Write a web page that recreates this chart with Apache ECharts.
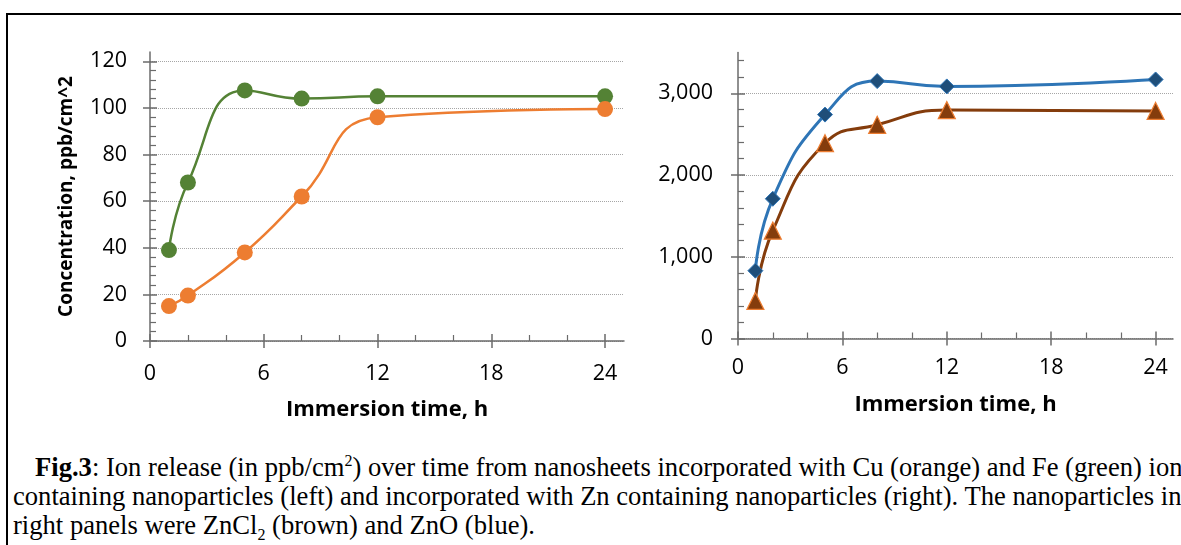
<!DOCTYPE html>
<html>
<head>
<meta charset="utf-8">
<script src="https://cdn.jsdelivr.net/npm/echarts@6/dist/echarts.min.js"></script>
<style>
  html, body { margin: 0; padding: 0; background: #fff; width: 1181px; height: 545px; overflow: hidden; }
  .frame { position: absolute; left: 6px; top: 13px; width: 1200px; height: 600px; border-top: 2px solid #000; border-left: 2px solid #000; }
  #chart { position: absolute; left: 0; top: 0; width: 1181px; height: 440px; }
  .caption { position: absolute; left: 0; width: 1181px; font-family: 'Liberation Serif', 'Times New Roman', serif; font-size: 26.6px; line-height: 29px; white-space: nowrap; overflow: hidden; color: #000; }
  .caption sup, .caption sub { font-size: 16px; line-height: 0; }
</style>
</head>
<body>
<div class="frame"></div>
<div id="chart"></div>
<div class="caption" style="top:453px;left:35px;"><b>Fig.3</b>: Ion release (in ppb/cm<sup>2</sup>) over time from nanosheets incorporated with Cu (orange) and Fe (green) ion</div>
<div class="caption" style="top:482px;left:13px;">containing nanoparticles (left) and incorporated with Zn containing nanoparticles (right). The nanoparticles in</div>
<div class="caption" style="top:511px;left:13px;">right panels were ZnCl<sub>2</sub> (brown) and ZnO (blue).</div>
<script>
// immersion time, h
const hours = [1, 2, 5, 8, 12, 24]
// left panel, ppb/cm^2
const feValues = [39, 68, 107.5, 104, 105, 105]
const cuValues = [15, 19.5, 38, 62, 96, 99.5]
// right panel
const znoValues = [830, 1710, 2740, 3150, 3085, 3170]
const zncl2Values = [460, 1320, 2390, 2615, 2795, 2785]

// tick values
const xTicks = [0, 6, 12, 18, 24]
const leftYTicks = [0, 20, 40, 60, 80, 100, 120]
const rightYTicks = [0, 1000, 2000, 3000]

const labelFont = { color: '#000', fontSize: 21.5, fontFamily: 'Open Sans' }
const nameFont = { color: '#000', fontWeight: 'bold', fontFamily: 'Open Sans' }
const axisColor = '#6b6b6b'

function pairs(values) {
  return hours.map((h, i) => [h, values[i]])
}

// main axis: line, labels, inside ticks + minor ticks
function mainAxis(gridIndex, opts) {
  return {
    type: 'value',
    gridIndex,
    position: opts.position,
    min: 0,
    max: opts.max,
    interval: opts.interval,
    axisLine: { show: true, onZero: false, lineStyle: { color: axisColor, width: 1.5 } },
    axisTick: { show: true, inside: true, length: 7, customValues: opts.ticks, lineStyle: { color: axisColor, width: 1.5 } },
    minorTick: { show: true, splitNumber: opts.minor, length: 6, lineStyle: { color: axisColor, width: 1.2 } },
    axisLabel: {
      ...labelFont,
      margin: opts.margin,
      customValues: opts.ticks,
      formatter: opts.formatter,
    },
    splitLine: opts.grid
      ? { show: true, lineStyle: { color: '#a6a6a6', type: 'dotted', width: 1 } }
      : { show: false },
    name: opts.name,
    nameLocation: 'middle',
    nameGap: opts.nameGap,
    nameTextStyle: { ...nameFont, fontSize: opts.nameSize },
  }
}

// overlay axis that only draws the outward half of the major ticks
function tickAxis(gridIndex, opts) {
  return {
    type: 'value',
    gridIndex,
    position: opts.position,
    offset: 0,
    min: 0,
    max: opts.max,
    interval: opts.interval,
    axisLine: { show: false, onZero: false },
    axisTick: { show: true, inside: false, length: 7, customValues: opts.ticks, lineStyle: { color: axisColor, width: 1.5 } },
    axisLabel: { show: false },
    splitLine: { show: false },
  }
}

const leftX = {
  position: 'bottom', max: 25, interval: 6, minor: 3, margin: 22, ticks: xTicks,
  name: 'Immersion time, h', nameGap: 58, nameSize: 22,
}
const leftY = {
  position: 'left', max: 124, interval: 20, minor: 5, margin: 23, grid: true, ticks: leftYTicks,
  name: 'Concentration, ppb/cm^2', nameGap: 74, nameSize: 19,
}
const rightX = {
  position: 'bottom', max: 25, interval: 6, minor: 3, margin: 18, ticks: xTicks,
  name: 'Immersion time, h', nameGap: 55, nameSize: 22,
}
const rightY = {
  position: 'left', max: 3500, interval: 1000, minor: 5, margin: 25, grid: true, ticks: rightYTicks,
  formatter: (v) => v.toLocaleString('en-US'),
}

const chart = echarts.init(document.getElementById('chart'), null, { renderer: 'canvas' })

chart.setOption({
  animation: false,
  grid: [
    { left: 150, top: 52, width: 474, height: 289 },
    { left: 738, top: 52.5, width: 435, height: 286 },
  ],
  xAxis: [
    mainAxis(0, leftX), tickAxis(0, leftX),
    mainAxis(1, rightX), tickAxis(1, rightX),
  ],
  yAxis: [
    mainAxis(0, leftY), tickAxis(0, leftY),
    mainAxis(1, rightY), tickAxis(1, rightY),
  ],
  series: [
    {
      name: 'Fe', type: 'line', xAxisIndex: 0, yAxisIndex: 0, smooth: 0.5,
      data: pairs(feValues),
      symbol: 'circle', symbolSize: 16,
      lineStyle: { color: '#548235', width: 2.5 },
      itemStyle: { color: '#548235' },
    },
    {
      name: 'Cu', type: 'line', xAxisIndex: 0, yAxisIndex: 0, smooth: 0.5,
      data: pairs(cuValues),
      symbol: 'circle', symbolSize: 16,
      lineStyle: { color: '#ed7d31', width: 2.5 },
      itemStyle: { color: '#ed7d31' },
    },
    {
      name: 'ZnO', type: 'line', xAxisIndex: 2, yAxisIndex: 2, smooth: 0.5,
      data: pairs(znoValues),
      symbol: 'diamond', symbolSize: 15,
      lineStyle: { color: '#2e75b6', width: 3 },
      itemStyle: { color: '#1f4e79', borderColor: '#2e75b6', borderWidth: 1 },
    },
    {
      name: 'ZnCl2', type: 'line', xAxisIndex: 2, yAxisIndex: 2, smooth: 0.5,
      data: pairs(zncl2Values),
      symbol: 'triangle', symbolSize: 17,
      lineStyle: { color: '#843c0c', width: 3 },
      itemStyle: { color: '#843c0c', borderColor: '#ed7d31', borderWidth: 1.2 },
    },
  ],
})
</script>
</body>
</html>
